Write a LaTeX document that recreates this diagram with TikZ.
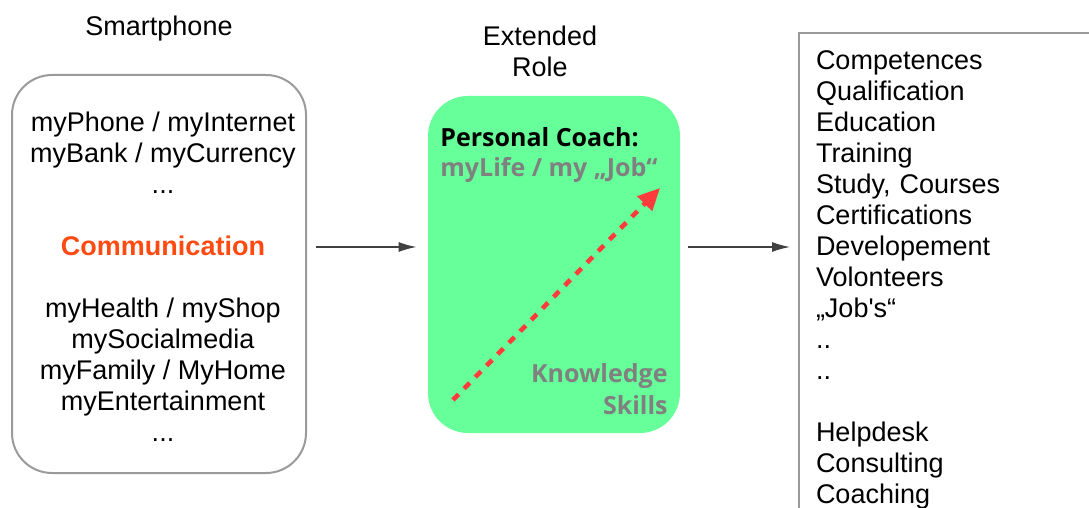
\documentclass[tikz,border=0pt]{standalone}
\usepackage{fontspec}
\setmainfont{Liberation Sans}
\newfontfamily\coachfont{Open Sans}
\usepackage{tikz}
\usetikzlibrary{arrows.meta}
\usepackage{xcolor}

\definecolor{boxgray}{HTML}{9A9A9A}
\definecolor{coachgreen}{HTML}{66FF99}
\definecolor{commred}{HTML}{FF4A12}
\definecolor{dashred}{HTML}{FF3B3B}
\definecolor{softgray}{HTML}{808080}

\tikzset{
  plain/.style={font=\fontsize{13.5}{15.5}\selectfont, inner sep=0pt},
  phonebox/.style={draw=boxgray, line width=1pt, rounded corners=20pt,
    minimum width=147pt, minimum height=199pt},
  coachbox/.style={fill=coachgreen, rounded corners=20pt,
    minimum width=126pt, minimum height=168.5pt},
  coachtext/.style={font=\coachfont\bfseries\fontsize{12.5}{16}\selectfont, inner sep=0pt},
  listbox/.style={plain, draw=boxgray, line width=1pt, align=left,
    text width=170pt, inner xsep=8.5pt, inner ysep=9pt},
  flow/.style={-{Latex[length=9pt,width=5pt]}, line width=0.7pt, draw=black!75},
  redarrow/.style={-{Triangle[length=11pt,width=10pt]}, dashed, dash pattern=on 4pt off 4pt,
    line width=2.3pt, draw=dashred}
}

\begin{document}
\begin{tikzpicture}[x=0.5pt, y=-0.5pt]
    \useasboundingbox (0,0) rectangle (1089,508);
    \clip (0,0) rectangle (1089,508);

    \node[plain] (phonelabel) at (159, 29) {Smartphone};
    \node[plain, align=center] (rolelabel) at (540, 51) {Extended\\Role};

    \node[phonebox] (phone) at (159, 274) {};
    \node[plain, align=center] (phonetext) at (163, 277) {myPhone / myInternet\\myBank / myCurrency\\...\\[15.5pt]
      \textbf{\color{commred}Communication}\\[15.5pt]
      myHealth / myShop\\mySocialmedia\\myFamily / MyHome\\myEntertainment\\...};

    \node[coachbox] (coach) at (554, 264.5) {};
    \node[coachtext, anchor=west] (coachtitle) at (440, 137) {Personal Coach:};
    \node[coachtext, anchor=west, softgray] (coachlife) at (440, 170) {myLife / my „Job“};
    \node[coachtext, anchor=east, align=right, softgray] (skills) at (668, 389) {Knowledge\\Skills};

    \node[listbox, anchor=north west] (list) at (798, 32) {Competences\\Qualification\\Education\\Training\\
      Study, Courses\\Certifications\\Developement\\Volonteers\\„Job\textquotesingle s“\\..\\..\\[15.5pt]
      Helpdesk\\Consulting\\Coaching};

    \coordinate (level) at (0, 247);
    \coordinate (growth) at (453, 400);
    \coordinate (goal) at (660, 188);

    \draw[flow, shorten <=4.5pt, shorten >=5.5pt] (phone.east |- level) -- (coach.west |- level);
    \draw[flow, shorten <=4pt, shorten >=4pt] (coach.east |- level) -- (list.west |- level);
    \draw[redarrow] (growth) -- (goal);
\end{tikzpicture}
\end{document}
